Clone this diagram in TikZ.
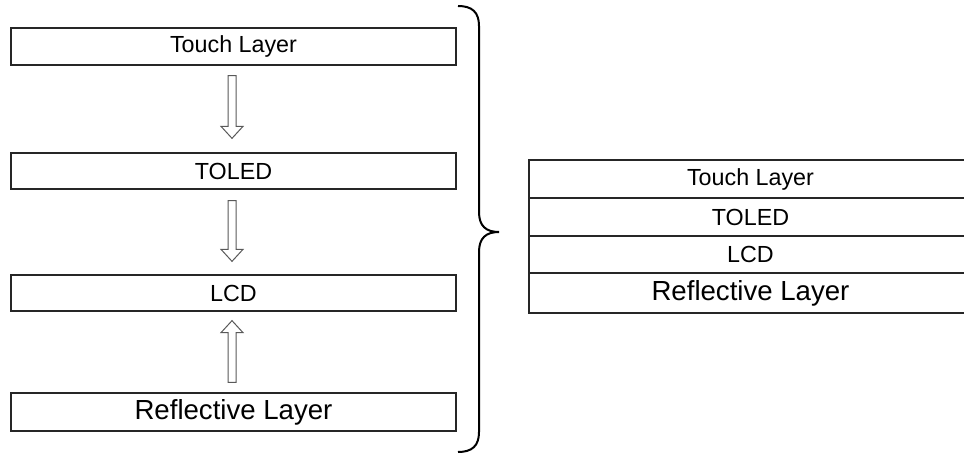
\documentclass[tikz,border=0pt]{standalone}
\usepackage{fontspec}
\setmainfont{Liberation Sans}
\usetikzlibrary{calc}
\newcommand\hollowarrow[2]{%
  \coordinate (hh) at ($(#2)!12pt!(#1)$);
  \draw[arrowline] ($(#1)!4pt!90:(#2)$) -- ($(hh)!4pt!-90:(#1)$) -- ($(hh)!11pt!-90:(#1)$) -- (#2)
    -- ($(hh)!11pt!90:(#1)$) -- ($(hh)!4pt!90:(#1)$) -- ($(#1)!4pt!-90:(#2)$) -- cycle;}
\begin{document}
\begin{tikzpicture}[x=1pt,y=-1pt,
  layerbox/.style={draw=black!85, line width=1.3pt, minimum width=445pt, inner sep=0pt,
    font=\fontsize{23.3pt}{27pt}\selectfont},
  stackbox/.style={draw=black!85, line width=1.3pt, minimum width=443pt, inner sep=0pt,
    font=\fontsize{23.3pt}{27pt}\selectfont},
  bigtext/.style={font=\fontsize{27.6pt}{32pt}\selectfont},
  arrowline/.style={draw=black!65, line width=1pt, fill=white},
  bracestyle/.style={draw=black, line width=2pt}]
\useasboundingbox (0,0) rectangle (964,457);
% left column
\node[layerbox, minimum height=37pt] (touch) at (233.5,46.5) {Touch Layer};
\node[layerbox, minimum height=36pt] (toled) at (233.5,171) {TOLED};
\node[layerbox, minimum height=36pt] (lcd) at (233.5,293) {LCD};
\node[layerbox, bigtext, minimum height=38pt] (refl) at (233.5,412) {Reflective Layer};
% arrows
\coordinate (a1s) at ($(touch.south)+(-1.5,10)$);
\coordinate (a1e) at ($(toled.north)+(-1.5,-14)$);
\coordinate (a2s) at ($(toled.south)+(-1.5,11)$);
\coordinate (a2e) at ($(lcd.north)+(-1.5,-13)$);
\coordinate (a3s) at ($(refl.north)+(-1.5,-10)$);
\coordinate (a3e) at ($(lcd.south)+(-1.5,9)$);
\hollowarrow{a1s}{a1e}
\hollowarrow{a2s}{a2e}
\hollowarrow{a3s}{a3e}
% brace
\draw[bracestyle] (458,6) .. controls (472,6) and (479,12) .. (479,26) -- (479,212)
  .. controls (479,226) and (486,232) .. (499,232)
  .. controls (486,232) and (479,238) .. (479,252) -- (479,432)
  .. controls (479,446) and (472,452) .. (458,452);
% right stack
\node[stackbox, minimum height=38pt] (rtouch) at (750.5,179) {Touch Layer};
\node[stackbox, minimum height=38pt] (rtoled) at (750.5,217) {TOLED};
\node[stackbox, minimum height=37pt] (rlcd) at (750.5,254.5) {LCD};
\node[stackbox, bigtext, minimum height=40pt] (rrefl) at (750.5,293) {Reflective Layer};
\end{tikzpicture}
\end{document}
